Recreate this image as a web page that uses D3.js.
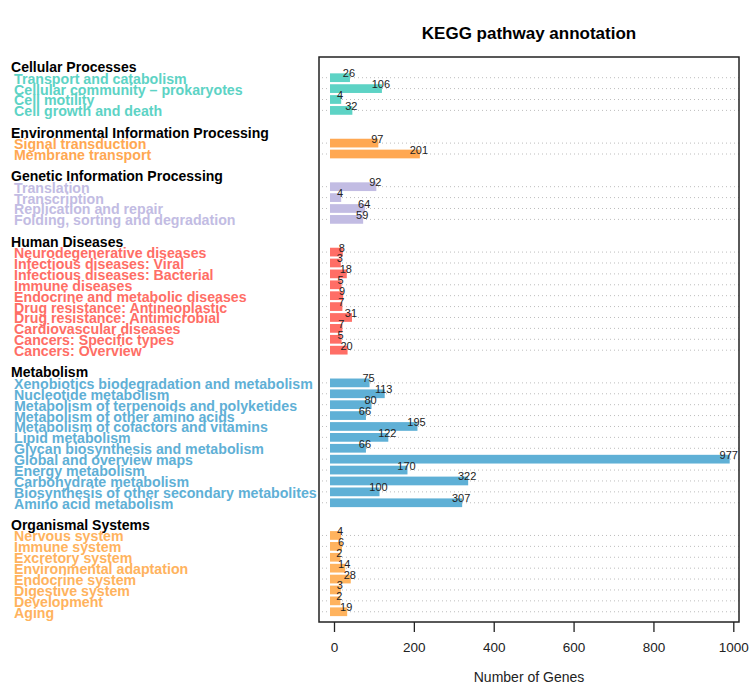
<!DOCTYPE html>
<html>
<head>
<meta charset="utf-8">
<script src="https://cdn.jsdelivr.net/npm/d3@7"></script>
<style>
  body { margin: 0; background: #fff; }
  svg { font-family: "Liberation Sans", Arial, sans-serif; }
</style>
</head>
<body>
<div id="chart"></div>
<script>
// KEGG pathway annotation, grouped horizontal bars

var groups = ["Cellular Processes", "Environmental Information Processing",
  "Genetic Information Processing", "Human Diseases", "Metabolism",
  "Organismal Systems"];

var groupColors = ["#5dd3c5", "#ffa852", "#c2bce3", "#ff6e66", "#5fb0d6", "#ffb35e"];

var pathways = [
  ["Transport and catabolism", "Cellular community \u2013 prokaryotes", "Cell motility",
   "Cell growth and death"],
  ["Signal transduction", "Membrane transport"],
  ["Translation", "Transcription", "Replication and repair",
   "Folding, sorting and degradation"],
  ["Neurodegenerative diseases", "Infectious diseases: Viral",
   "Infectious diseases: Bacterial", "Immune diseases",
   "Endocrine and metabolic diseases", "Drug resistance: Antineoplastic",
   "Drug resistance: Antimicrobial", "Cardiovascular diseases",
   "Cancers: Specific types", "Cancers: Overview"],
  ["Xenobiotics biodegradation and metabolism", "Nucleotide metabolism",
   "Metabolism of terpenoids and polyketides", "Metabolism of other amino acids",
   "Metabolism of cofactors and vitamins", "Lipid metabolism",
   "Glycan biosynthesis and metabolism", "Global and overview maps",
   "Energy metabolism", "Carbohydrate metabolism",
   "Biosynthesis of other secondary metabolites", "Amino acid metabolism"],
  ["Nervous system", "Immune system", "Excretory system",
   "Environmental adaptation", "Endocrine system", "Digestive system",
   "Development", "Aging"]
];

var geneCounts = [
  [26, 106, 4, 32],
  [97, 201],
  [92, 4, 64, 59],
  [8, 3, 18, 5, 9, 7, 31, 7, 5, 20],
  [75, 113, 80, 66, 195, 122, 66, 977, 170, 322, 100, 307],
  [4, 6, 2, 14, 28, 3, 2, 19]
];

var xTicks = [0, 200, 400, 600, 800, 1000];

// lay the rows out: header slot before each group, one empty slot between groups
var rows = [], headers = [];
var slot = 0;
groups.forEach(function(g, gi) {
  if (gi > 0) slot += 2;
  headers.push({name: g, slot: slot - 1});
  pathways[gi].forEach(function(p, pi) {
    rows.push({name: p, value: geneCounts[gi][pi], color: groupColors[gi], slot: slot});
    slot++;
  });
});

var W = 749, H = 686;
var box = {left: 319, right: 739, top: 57, bottom: 622};

var svg = d3.select("#chart").append("svg")
  .attr("width", W)
  .attr("height", H);

var x = d3.scaleLinear().domain([0, 1000]).range([334, 733.3]);
var y = d3.scaleLinear().domain([-1.9, 49.94]).range([box.top, box.bottom]);
var slotH = y(1) - y(0);
var barH = slotH * 0.8;
// bars in the original start a little left of zero and run a bit past the value
var barStart = -10, barPad = 14;

// title
svg.append("text")
  .attr("x", (box.left + box.right) / 2)
  .attr("y", 39)
  .attr("text-anchor", "middle")
  .style("font-weight", "bold")
  .style("font-size", "17px")
  .text("KEGG pathway annotation");

// dotted guide lines
svg.append("g").selectAll("line")
  .data(rows)
  .join("line")
  .attr("x1", 322)
  .attr("x2", box.right)
  .attr("y1", d => y(d.slot))
  .attr("y2", d => y(d.slot))
  .attr("stroke", "#bdbdbd")
  .attr("stroke-width", 1)
  .attr("stroke-dasharray", "1,3");

// bars
svg.append("g").selectAll("rect")
  .data(rows)
  .join("rect")
  .attr("x", x(barStart))
  .attr("y", d => y(d.slot) - barH / 2)
  .attr("width", d => x(d.value + barPad) - x(barStart))
  .attr("height", barH)
  .attr("fill", d => d.color);

// value labels
svg.append("g").selectAll("text")
  .data(rows)
  .join("text")
  .attr("x", d => x(d.value + barPad) - 1)
  .attr("y", d => y(d.slot) - 0.5)
  .attr("text-anchor", "middle")
  .style("font-size", "11px")
  .style("fill", "#222")
  .text(d => d.value);

// frame
svg.append("rect")
  .attr("x", box.left)
  .attr("y", box.top)
  .attr("width", box.right - box.left)
  .attr("height", box.bottom - box.top)
  .attr("fill", "none")
  .attr("stroke", "#222")
  .attr("stroke-width", 1.5);

// x axis
var xAxis = d3.axisBottom(x)
  .tickValues(xTicks)
  .tickFormat(d3.format("d"))
  .tickSize(10)
  .tickPadding(10);
var ax = svg.append("g")
  .attr("transform", `translate(0,${box.bottom})`)
  .call(xAxis);
ax.select(".domain").remove();
ax.selectAll(".tick line").attr("stroke", "#222").attr("stroke-width", 1.3);
ax.selectAll(".tick text")
  .style("font-family", "'Liberation Sans', Arial, sans-serif")
  .style("font-size", "13.5px")
  .style("fill", "#222");

svg.append("text")
  .attr("x", (box.left + box.right) / 2)
  .attr("y", 682)
  .attr("text-anchor", "middle")
  .style("font-size", "14px")
  .style("fill", "#222")
  .text("Number of Genes");

// left labels, squeezed horizontally like the original
var headG = svg.append("g");
headG.selectAll("text")
  .data(headers)
  .join("text")
  .attr("x", 0)
  .attr("y", d => y(d.slot) + 5.5)
  .style("font-weight", "bold")
  .style("font-size", "15px")
  .style("fill", "#000")
  .text(d => d.name);

var itemG = svg.append("g");
itemG.selectAll("text")
  .data(rows)
  .join("text")
  .attr("x", 0)
  .attr("y", d => y(d.slot) + 6)
  .style("font-weight", "bold")
  .style("font-size", "15px")
  .style("fill", d => d.color)
  .text(d => d.name);

function squeeze(g, name, target, left) {
  var w = 0;
  g.selectAll("text").each(function(d) {
    if (d.name === name) w = this.getComputedTextLength();
  });
  var sx = w ? target / w : 1;
  g.attr("transform", `translate(${left},0) scale(${sx},1)`);
}
squeeze(headG, "Environmental Information Processing", 258, 11);
squeeze(itemG, "Xenobiotics biodegradation and metabolism", 299, 14);
</script>
</body>
</html>
